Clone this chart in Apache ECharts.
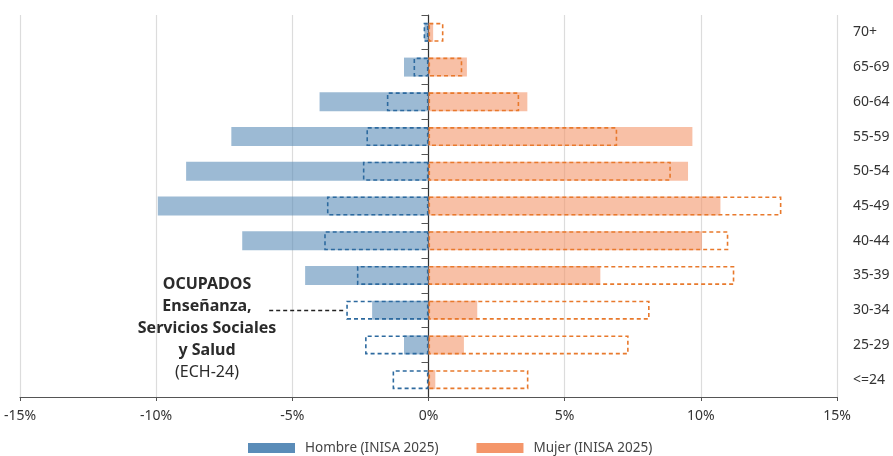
<!DOCTYPE html>
<html>
<head>
<meta charset="UTF-8">
<title></title>
<script src="https://cdn.jsdelivr.net/npm/echarts@6/dist/echarts.min.js"></script>
<style type="text/css">
  *{margin:0;padding:0;}
  #main{width:893px;height:456px;}
</style>
</head>
<body>
<div id="main"></div>
<script type="text/javascript">
// age groups, top to bottom
var edades = ['70+', '65-69', '60-64', '55-59', '50-54', '45-49', '40-44', '35-39', '30-34', '25-29', '<=24'];
// INISA 2025 (filled bars, % of total)
var hombreInisa = [-0.15, -0.9, -4.0, -7.24, -8.9, -9.94, -6.84, -4.53, -2.07, -0.9, 0];
var mujerInisa = [0.17, 1.41, 3.63, 9.69, 9.53, 10.72, 10.04, 6.31, 1.79, 1.3, 0.25];
// Ocupados ECH-24 (dashed outlines)
var hombreEch = [-0.18, -0.55, -1.53, -2.28, -2.41, -3.73, -3.83, -2.63, -3.02, -2.33, -1.32];
var mujerEch = [0.55, 1.24, 3.33, 6.93, 8.9, 12.96, 11.01, 11.23, 8.12, 7.35, 3.67];
var xTicks = [-15, -10, -5, 0, 5, 10, 15];

var fuente = '"Noto Sans", "Open Sans", sans-serif';
var azul = '#5a8cb8', naranja = '#f4966a';
var azulDash = '#2d6a9f', naranjaDash = '#e8792c';

var myChart = echarts.init(document.getElementById('main'));

function barraRellena(name, data, color) {
  return {
    name: name, type: 'bar', data: data,
    barWidth: 19, barGap: '-100%',
    itemStyle: {color: color, opacity: 0.6},
    emphasis: {disabled: true},
    z: 2
  };
}
function barraRayada(name, data, color) {
  return {
    name: name, type: 'bar', data: data,
    barWidth: 19, barGap: '-100%',
    itemStyle: {color: 'rgba(0,0,0,0)', borderColor: color, borderWidth: 1.6, borderType: [4, 3]},
    emphasis: {disabled: true},
    z: 3
  };
}

var serieHombreEch = barraRayada('Hombre (ECH-24)', hombreEch, azulDash);
// conector de la anotacion hacia la barra 30-34
serieHombreEch.markLine = {
  silent: true,
  symbol: ['none', 'none'],
  label: {show: false},
  lineStyle: {color: '#222', type: [4, 3], width: 1.4},
  data: [[{coord: [-5.85, '30-34']}, {coord: [hombreEch[8], '30-34']}]]
};

var option = {
  animation: false,
  textStyle: {fontFamily: fuente},
  grid: {left: 20, right: 56, top: 15, bottom: 59},
  legend: {
    data: [
      {name: 'Hombre (INISA 2025)', itemStyle: {color: azul, opacity: 1}},
      {name: 'Mujer (INISA 2025)', itemStyle: {color: naranja, opacity: 1}}
    ],
    left: 243, top: 436,
    itemWidth: 47, itemHeight: 10, itemGap: 38,
    icon: 'rect',
    textStyle: {fontSize: 13.5, color: '#444', fontFamily: fuente, padding: [0, 0, 0, 5]}
  },
  xAxis: {
    type: 'value', min: -15, max: 15, interval: 5,
    axisLine: {show: true, lineStyle: {color: '#555', width: 1.2}},
    axisTick: {show: true, length: 4, lineStyle: {color: '#555'}},
    axisLabel: {fontSize: 14, color: '#333', margin: 12, formatter: function (v) { return xTicks.indexOf(v) >= 0 ? v + '%' : ''; }},
    splitLine: {show: true, lineStyle: {color: '#dcdcdc', width: 1.2}}
  },
  yAxis: [
    {
      type: 'category', data: edades, inverse: true,
      position: 'left',
      axisLine: {show: true, onZero: true, lineStyle: {color: '#333', width: 1.2}},
      axisTick: {show: true, length: 7, lineStyle: {color: '#555'}},
      axisLabel: {show: false}
    },
    {
      type: 'category', data: edades, inverse: true,
      position: 'right',
      axisLine: {show: false, onZero: false},
      axisTick: {show: false},
      axisLabel: {fontSize: 14, color: '#333', margin: 16, align: 'left'}
    }
  ],
  series: [
    barraRellena('Hombre (INISA 2025)', hombreInisa, azul),
    barraRellena('Mujer (INISA 2025)', mujerInisa, naranja),
    serieHombreEch,
    barraRayada('Mujer (ECH-24)', mujerEch, naranjaDash)
  ],
  graphic: [
    {type: 'text', x: 207, y: 284, style: {text: 'OCUPADOS', font: 'bold 16px ' + fuente, fill: '#2b2b2b', align: 'center', verticalAlign: 'middle'}},
    {type: 'text', x: 207, y: 306, style: {text: 'Enseñanza,', font: 'bold 16px ' + fuente, fill: '#2b2b2b', align: 'center', verticalAlign: 'middle'}},
    {type: 'text', x: 207, y: 328.5, style: {text: 'Servicios Sociales', font: 'bold 16px ' + fuente, fill: '#2b2b2b', align: 'center', verticalAlign: 'middle'}},
    {type: 'text', x: 207, y: 350.5, style: {text: 'y Salud', font: 'bold 16px ' + fuente, fill: '#2b2b2b', align: 'center', verticalAlign: 'middle'}},
    {type: 'text', x: 207, y: 372.5, style: {text: '(ECH-24)', font: '16px ' + fuente, fill: '#2b2b2b', align: 'center', verticalAlign: 'middle'}}
  ]
};
myChart.setOption(option);
</script>
</body>
</html>
